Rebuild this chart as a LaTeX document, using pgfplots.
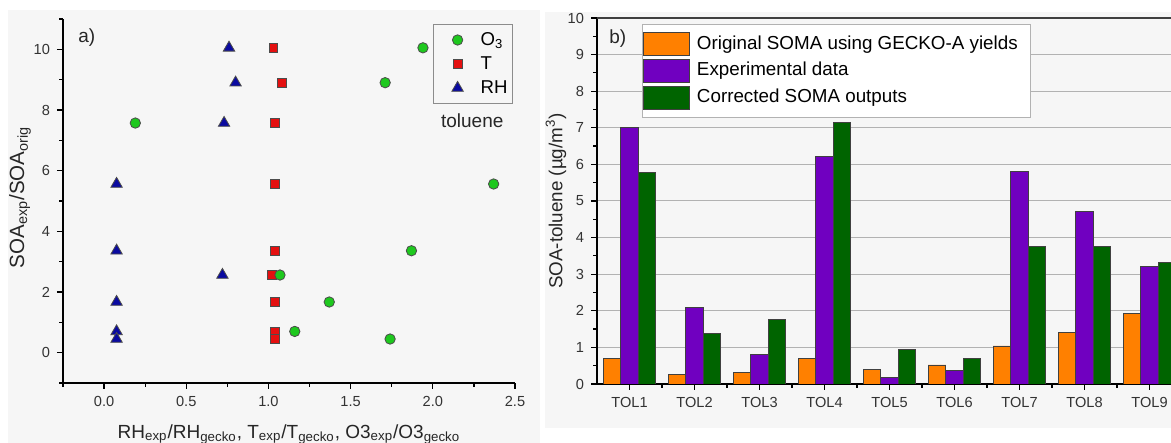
\documentclass[border=0pt]{standalone}
\usepackage{fontspec}
\setmainfont{Liberation Sans}
\usepackage{pgfplots}
\pgfplotsset{compat=1.18}
\definecolor{cO}{RGB}{30,200,30}
\definecolor{cT}{RGB}{228,16,16}
\definecolor{cRH}{RGB}{10,10,160}
\definecolor{bOr}{RGB}{255,128,0}
\definecolor{bPu}{RGB}{112,0,192}
\definecolor{bGr}{RGB}{0,100,0}
\definecolor{bg}{RGB}{246,246,246}
\newcommand{\sub}[1]{\textsubscript{#1}}
\pgfplotsset{
  bigpatch/.style={legend image code/.code={\draw[##1] (0pt,-5.75pt) rectangle (23pt,5.75pt);}},
  markimg/.style={legend image code/.code={\path[draw=none, fill=none] (-11pt,0pt) (10pt,0pt); \draw[##1] plot coordinates {(0pt,0pt)};}},
}
\begin{document}
\begin{tikzpicture}[x=1pt,y=1pt]
\useasboundingbox (0,0) rectangle (585.5,221.5);
\fill[bg] (4,0) rectangle (270,216.5);
\fill[bg] (272.5,7.5) rectangle (585.5,215.5);
% ---------------- left panel
\begin{axis}[
  at={(31.5pt,30pt)}, anchor=south west,
  scale only axis, width=226pt, height=182pt,
  xmin=-0.25, xmax=2.5, ymin=-1, ymax=11,
  axis x line*=bottom, axis y line*=left,
  axis line style={-, black, line width=0.7pt},
  xtick={0,0.5,...,2.5}, minor xtick={-0.25,0.25,0.75,1.25,1.75,2.25},
  ytick={0,2,...,10}, minor ytick={-1,1,3,5,7,9,11},
  tick align=outside, major tick length=3pt, minor tick length=1.8pt,
  tick style={black, line width=0.6pt},
  /pgf/number format/assume math mode=true,
  xticklabel style={/pgf/number format/fixed, /pgf/number format/fixed zerofill, /pgf/number format/precision=1},
  tick label style={font=\fontsize{7.3}{8}\selectfont, text=black!80},
  xlabel={RH\sub{exp}/RH\sub{gecko}, T\sub{exp}/T\sub{gecko}, O3\sub{exp}/O3\sub{gecko}},
  ylabel={SOA\sub{exp}/SOA\sub{orig}},
  xlabel style={at={(axis description cs:0.5,-0.152)}, anchor=base, font=\fontsize{9.5}{10}\selectfont, text=black!85},
  ylabel style={at={(axis description cs:-0.095,0.51)}, anchor=center, font=\fontsize{10.3}{11}\selectfont, text=black!85},
  legend style={at={(0.819,0.986)}, anchor=north west, draw=black!45, fill=none,
    font=\fontsize{9.3}{10}\selectfont, row sep=0.5pt, inner xsep=1pt, inner ysep=2pt,
    nodes={inner sep=1.5pt, text height=7pt, text depth=1.5pt}},
  legend cell align=left, reverse legend,
]
\addplot[only marks, mark=triangle*, mark size=3.3pt, draw=black!70, fill=cRH, line width=0.4pt, markimg] coordinates {
 (0.76,10.05) (0.80,8.90) (0.73,7.57) (0.076,5.56) (0.076,3.36) (0.72,2.56) (0.076,1.67) (0.076,0.70) (0.076,0.45)};
\addlegendentry{RH}
\addplot[only marks, mark=square*, mark size=2.2pt, draw=black!70, fill=cT, line width=0.4pt, markimg] coordinates {
 (1.03,10.05) (1.08,8.90) (1.04,7.57) (1.04,5.56) (1.04,3.36) (1.02,2.56) (1.04,1.67) (1.04,0.70) (1.04,0.45)};
\addlegendentry{T}
\addplot[only marks, mark=*, mark size=2.6pt, draw=black!70, fill=cO, line width=0.4pt, markimg] coordinates {
 (0.19,7.57) (1.94,10.05) (1.71,8.90) (2.37,5.56) (1.87,3.36) (1.07,2.56) (1.37,1.67) (1.16,0.70) (1.74,0.45)};
\addlegendentry{O\sub{3}}
\node[font=\fontsize{9.5}{10}\selectfont, text=black!85] at (axis cs:2.24,7.65) {toluene};
\node[font=\fontsize{9.5}{10}\selectfont, anchor=west, text=black!85] at (axis cs:-0.2,10.4) {a)};
\end{axis}
% ---------------- right panel
\begin{axis}[
  at={(298.5pt,29.5pt)}, anchor=south west,
  scale only axis, width=287pt, height=183pt,
  xmin=0.5, xmax=9.33, ymin=0, ymax=10,
  axis x line*=bottom, axis y line*=left,
  axis line style={-, black, line width=0.7pt},
  ytick={0,...,10}, minor y tick num=1,
  xtick={1,...,9}, xticklabels={TOL1,TOL2,TOL3,TOL4,TOL5,TOL6,TOL7,TOL8,TOL9},
  minor xtick={1.5,2.5,3.5,4.5,5.5,6.5,7.5,8.5},
  tick align=outside, major tick length=3pt, minor tick length=2pt,
  tick style={black, line width=0.6pt},
  ymajorgrids, grid style={black!30, line width=0.5pt},
  /pgf/number format/assume math mode=true,
  tick label style={font=\fontsize{7.3}{8}\selectfont, text=black!80},
  ylabel={SOA-toluene (µg/m\textsuperscript{3})},
  ylabel style={at={(axis description cs:-0.0714,0.5)}, anchor=center, font=\fontsize{9.4}{10}\selectfont, text=black!85},
  ybar=0pt, bar width=0.27,
  legend style={at={(0.078,0.984)}, anchor=north west, draw=black!30, fill=white,
    font=\fontsize{9.4}{10}\selectfont, row sep=1.5pt, inner xsep=0.5pt, inner ysep=4pt,
    nodes={inner sep=0pt, text height=7pt, text depth=2pt}, column sep=3.5pt},
  legend cell align=left,
]
\draw[black!75, line width=0.7pt] (axis cs:0.5,10) -- (axis cs:9.33,10);
\addplot[fill=bOr, draw=black!75, line width=0.4pt, bar shift=-0.27, bigpatch] coordinates {
 (1,0.70) (2,0.27) (3,0.32) (4,0.70) (5,0.39) (6,0.52) (7,1.04) (8,1.41) (9,1.92)};
\addlegendentry{Original SOMA using GECKO-A yields\kern6pt}
\addplot[fill=bPu, draw=black!75, line width=0.4pt, bar shift=0, bigpatch] coordinates {
 (1,7.00) (2,2.10) (3,0.81) (4,6.21) (5,0.18) (6,0.36) (7,5.81) (8,4.71) (9,3.21)};
\addlegendentry{Experimental data}
\addplot[fill=bGr, draw=black!75, line width=0.4pt, bar shift=0.27, bigpatch] coordinates {
 (1,5.79) (2,1.37) (3,1.76) (4,7.14) (5,0.94) (6,0.69) (7,3.77) (8,3.75) (9,3.32)};
\addlegendentry{Corrected SOMA outputs}
\node[font=\fontsize{9.5}{10}\selectfont, text=black!85] at (axis cs:0.82,9.45) {b)};
\end{axis}
\end{tikzpicture}
\end{document}
